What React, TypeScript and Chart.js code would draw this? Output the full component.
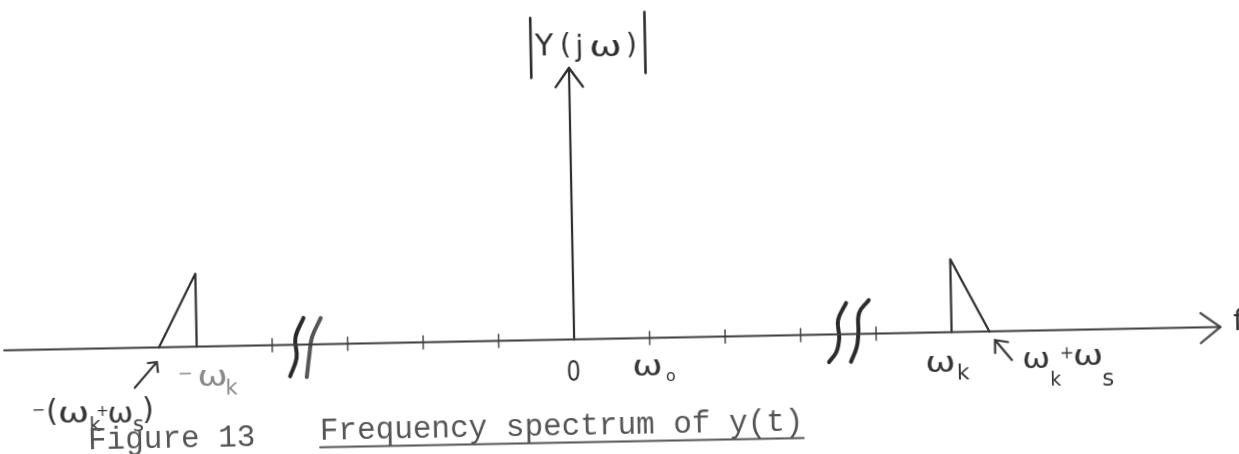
import React, { useEffect, useRef } from 'react';
import { Chart, registerables } from 'chart.js';

Chart.register(...registerables);

// Frequency axis in display units (one tick = ω0); the axis is broken between ±3 and ±4.
const tickPositions = [-4, -3, -2, -1, 1, 2, 3, 4];
const omegaK = 5;
const omegaS = 0.5;
const peakMagnitude = 1;
const tickHalfHeight = 0.09;
const freqAxisStart = -7.55;
const freqAxisEnd = 8.56;
const magAxisTop = 3.72;

const freqArrowHead = [
  { x: 8.3, y: 0.196 },
  { x: freqAxisEnd, y: 0 },
  { x: 8.3, y: -0.214 },
];
const magArrowHead = [
  { x: -0.18, y: 3.46 },
  { x: 0, y: magAxisTop },
  { x: 0.18, y: 3.46 },
];

// Break marks "((" and "))" on the frequency axis
const breakLeftA = [
  { x: -3.58, y: 0.364 },
  { x: -3.69, y: 0.1 },
  { x: -3.68, y: -0.18 },
  { x: -3.77, y: -0.43 },
];
const breakLeftB = [
  { x: -3.35, y: 0.36 },
  { x: -3.47, y: 0.1 },
  { x: -3.51, y: -0.14 },
  { x: -3.55, y: -0.445 },
];
const breakRightA = [
  { x: 3.61, y: 0.427 },
  { x: 3.5, y: 0.196 },
  { x: 3.51, y: -0.05 },
  { x: 3.47, y: -0.24 },
  { x: 3.37, y: -0.377 },
];
const breakRightB = [
  { x: 3.91, y: 0.46 },
  { x: 3.78, y: 0.286 },
  { x: 3.765, y: 0.012 },
  { x: 3.74, y: -0.18 },
  { x: 3.66, y: -0.38 },
];

const X_MIN = -7.576;
const X_MAX = 8.834;
const Y_MIN = -1.582;
const Y_MAX = 4.637;

const INK = '#2e2e2e';
const PENCIL = '#363636';
const FAINT = '#8a8a8a';
const HAND = '"DejaVu Sans", "Noto Sans", sans-serif';
const TYPE = '"Liberation Mono", "DejaVu Sans Mono", monospace';

type Piece = { t: string; size: number; dx: number; dy: number; sx?: number };
type AxisLabel = { at: number; color: string; pieces: Piece[] };

const axisLabels: AxisLabel[] = [
  { at: 0, color: PENCIL, pieces: [{ t: '0', size: 28, dx: -1.5, dy: 30.5, sx: 0.8 }] },
  {
    at: 1,
    color: PENCIL,
    pieces: [
      { t: 'ω', size: 28, dx: -3, dy: 29.6, sx: 1.3 },
      { t: 'o', size: 16, dx: 20, dy: 39 },
    ],
  },
  {
    at: omegaK,
    color: PENCIL,
    pieces: [
      { t: 'ω', size: 28, dx: -12, dy: 31.6, sx: 1.3 },
      { t: 'k', size: 22, dx: 12, dy: 39 },
    ],
  },
  {
    at: omegaK + omegaS,
    color: PENCIL,
    pieces: [
      { t: 'ω', size: 28, dx: 46, dy: 29, sx: 1.2 },
      { t: 'k', size: 19, dx: 66, dy: 48 },
      { t: '+', size: 17, dx: 77, dy: 22 },
      { t: 'ω', size: 28, dx: 98, dy: 27, sx: 1.3 },
      { t: 's', size: 23, dx: 118, dy: 49.5 },
    ],
  },
  {
    at: -omegaK,
    color: FAINT,
    pieces: [
      { t: '−', size: 18, dx: -12, dy: 27 },
      { t: 'ω', size: 28, dx: 15, dy: 31.6, sx: 1.3 },
      { t: 'k', size: 21, dx: 35, dy: 40 },
    ],
  },
  {
    at: -(omegaK + omegaS),
    color: PENCIL,
    pieces: [
      { t: '−', size: 16, dx: -122, dy: 60 },
      { t: '(', size: 30, dx: -108, dy: 62 },
      { t: 'ω', size: 28, dx: -87, dy: 65, sx: 1.35 },
      { t: 'k', size: 19, dx: -65, dy: 75 },
      { t: '+', size: 15, dx: -58, dy: 61.5 },
      { t: 'ω', size: 28, dx: -40, dy: 66, sx: 1.1 },
      { t: 's', size: 21, dx: -22, dy: 77 },
      { t: ')', size: 30, dx: -12, dy: 62 },
    ],
  },
];

// Small pointer arrows next to the band edges: [tip, tail, wing1, wing2] offsets in px
const pointerArrows = [
  { at: omegaK + omegaS, pts: [[5.5, 8.7], [22, 29], [18.5, 11], [5.4, 21.7]] },
  { at: -(omegaK + omegaS), pts: [[-2.4, 14.6], [-25, 40], [-11.4, 15.5], [-1.5, 24.7]] },
];

const magnitudePieces: Piece[] = [
  { t: 'Y', size: 30, dx: -24.5, dy: 42.6 },
  { t: '(', size: 28, dx: -3, dy: 44 },
  { t: 'j', size: 28, dx: 9.5, dy: 47.2 },
  { t: 'ω', size: 28, dx: 36.5, dy: 48.3, sx: 1.4 },
  { t: ')', size: 28, dx: 63, dy: 44.8 },
];

function glyph(ctx: CanvasRenderingContext2D, p: Piece, x: number, y: number) {
  ctx.save();
  ctx.font = `${p.size}px ${HAND}`;
  ctx.textAlign = 'left';
  ctx.textBaseline = 'alphabetic';
  const m = ctx.measureText(p.t);
  const w = m.actualBoundingBoxRight + m.actualBoundingBoxLeft;
  const h = m.actualBoundingBoxAscent + m.actualBoundingBoxDescent;
  ctx.translate(x, y);
  ctx.scale(p.sx ?? 1, 1);
  ctx.fillText(p.t, -w / 2 + m.actualBoundingBoxLeft, h / 2 - m.actualBoundingBoxDescent);
  ctx.restore();
}

const annotationPlugin = {
  id: 'spectrumAnnotations',
  afterDatasetsDraw(chart: any) {
    const ctx: CanvasRenderingContext2D = chart.ctx;
    const xs = chart.scales.x;
    const ys = chart.scales.y;
    const y0 = ys.getPixelForValue(0);

    ctx.save();
    for (const lab of axisLabels) {
      const ax = xs.getPixelForValue(lab.at);
      ctx.fillStyle = lab.color;
      for (const p of lab.pieces) glyph(ctx, p, ax + p.dx, y0 + p.dy);
    }

    ctx.strokeStyle = PENCIL;
    ctx.lineWidth = 2.2;
    ctx.lineCap = 'round';
    for (const a of pointerArrows) {
      const ax = xs.getPixelForValue(a.at);
      const [tip, tail, w1, w2] = a.pts;
      ctx.beginPath();
      ctx.moveTo(ax + tail[0], y0 + tail[1]);
      ctx.lineTo(ax + tip[0], y0 + tip[1]);
      ctx.moveTo(ax + w1[0], y0 + w1[1]);
      ctx.lineTo(ax + tip[0], y0 + tip[1]);
      ctx.lineTo(ax + w2[0], y0 + w2[1]);
      ctx.stroke();
    }

    // |Y(jω)| label above the magnitude axis
    const mx = xs.getPixelForValue(0);
    ctx.fillStyle = INK;
    for (const p of magnitudePieces) glyph(ctx, p, mx + p.dx, p.dy);
    ctx.strokeStyle = INK;
    ctx.lineWidth = 2.6;
    ctx.beginPath();
    ctx.moveTo(mx - 37.8, 16.3);
    ctx.lineTo(mx - 37.8, 76.3);
    ctx.moveTo(mx + 76.5, 12.5);
    ctx.lineTo(mx + 76.5, 73.5);
    ctx.stroke();

    // axis name at the arrow tip
    ctx.fillStyle = INK;
    ctx.font = `28px ${HAND}`;
    ctx.textBaseline = 'middle';
    ctx.textAlign = 'left';
    ctx.fillText('f', xs.getPixelForValue(freqAxisEnd) + 13, y0 - 4);

    // typed caption
    ctx.fillStyle = '#555';
    ctx.font = `31px ${TYPE}`;
    ctx.textBaseline = 'alphabetic';
    ctx.fillText('Figure 13', 84, 439);
    const title = 'Frequency spectrum of y(t)';
    ctx.fillText(title, 316, 434);
    const tw = ctx.measureText(title).width;
    ctx.strokeStyle = '#555';
    ctx.lineWidth = 2;
    ctx.beginPath();
    ctx.moveTo(316, 441.5);
    ctx.lineTo(316 + tw, 441.5);
    ctx.stroke();
    ctx.restore();
  },
};

function line(data: any[], width: number, color = INK, tension = 0) {
  return {
    data,
    showLine: true,
    borderColor: color,
    borderWidth: width,
    pointRadius: 0,
    tension,
    fill: false,
    spanGaps: false,
    borderCapStyle: 'round',
    borderJoinStyle: 'round',
  };
}

export default function App() {
  const canvasRef = useRef<HTMLCanvasElement | null>(null);

  useEffect(() => {
    const canvas = canvasRef.current;
    if (!canvas) return;

    const tickSegments: any[] = [];
    for (const t of tickPositions) {
      tickSegments.push({ x: t, y: -tickHalfHeight }, { x: t, y: tickHalfHeight }, { x: t, y: null });
    }
    const rightSpectrum = [
      { x: omegaK, y: 0 },
      { x: omegaK, y: peakMagnitude },
      { x: omegaK + omegaS, y: 0 },
    ];
    const leftSpectrum = rightSpectrum.map((p) => ({ x: -p.x, y: p.y }));

    const chart = new Chart(canvas, {
      type: 'scatter',
      data: {
        datasets: [
          line([{ x: freqAxisStart, y: 0 }, { x: freqAxisEnd, y: 0 }], 2.2, '#3c3c3c'),
          line(freqArrowHead, 2.4, '#555'),
          line([{ x: 0, y: 0 }, { x: 0, y: magAxisTop }], 2.2),
          line(magArrowHead, 2.4),
          line(tickSegments, 1.6, '#555'),
          line(rightSpectrum, 2.2),
          line(leftSpectrum, 2.2),
          line(breakLeftA, 4, '#2a2a2a', 0.4),
          line(breakLeftB, 4, '#555', 0.4),
          line(breakRightA, 4, '#2a2a2a', 0.4),
          line(breakRightB, 4, '#2a2a2a', 0.4),
        ] as any,
      },
      options: {
        responsive: false,
        maintainAspectRatio: false,
        animation: false,
        events: [],
        layout: { padding: 0 },
        plugins: { legend: { display: false }, tooltip: { enabled: false } },
        scales: {
          x: { type: 'linear', min: X_MIN, max: X_MAX, display: false },
          y: { type: 'linear', min: Y_MIN, max: Y_MAX, display: false },
        },
      },
      plugins: [annotationPlugin],
    });

    return () => chart.destroy();
  }, []);

  return (
    <div
      style={{
        position: 'fixed',
        left: 0,
        top: 0,
        width: 1239,
        height: 454,
        overflow: 'hidden',
        background: '#fff',
      }}
    >
      <canvas
        ref={canvasRef}
        width={1239}
        height={454}
        style={{
          display: 'block',
          width: 1239,
          height: 454,
          transform: 'rotate(-1.1deg)',
          transformOrigin: '620px 227px',
        }}
      />
    </div>
  );
}
